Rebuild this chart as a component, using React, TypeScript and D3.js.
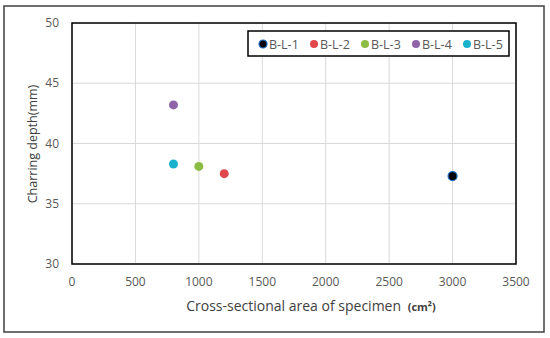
import React, { useRef, useEffect } from 'react';
import * as d3 from 'd3';

const seriesNames = ['B-L-1', 'B-L-2', 'B-L-3', 'B-L-4', 'B-L-5'];
const areaValues = [3000, 1200, 1000, 800, 800];
const depthValues = [37.3, 37.5, 38.1, 43.2, 38.3];
const seriesColors = ['#000000', '#e0474c', '#8cbc46', '#8e63a8', '#18b2cd'];
const xTicks = [0, 500, 1000, 1500, 2000, 2500, 3000, 3500];
const yTicks = [30, 35, 40, 45, 50];

const App = () => {
  const ref = useRef<SVGSVGElement>(null);

  useEffect(() => {
    const svg = d3.select(ref.current);
    svg.selectAll('*').remove();
    const font = 'Open Sans, Noto Sans, sans-serif';
    const left = 72, right = 516, top = 23, bottom = 264;

    const x = d3.scaleLinear().domain([0, 3500]).range([left, right]);
    const y = d3.scaleLinear().domain([30, 50]).range([bottom, top]);

    // outer frame
    svg.append('rect')
      .attr('x', 4).attr('y', 6).attr('width', 540).attr('height', 326)
      .attr('fill', '#fff').attr('stroke', '#404040').attr('stroke-width', 1.5);

    // grid
    svg.append('g').selectAll('line').data(xTicks).join('line')
      .attr('x1', d => x(d)).attr('x2', d => x(d))
      .attr('y1', top).attr('y2', bottom)
      .attr('stroke', '#d9d9d9').attr('stroke-width', 1);
    svg.append('g').selectAll('line').data(yTicks).join('line')
      .attr('x1', left).attr('x2', right)
      .attr('y1', d => y(d)).attr('y2', d => y(d))
      .attr('stroke', '#d9d9d9').attr('stroke-width', 1);

    // plot border
    svg.append('rect')
      .attr('x', left).attr('y', top).attr('width', right - left).attr('height', bottom - top)
      .attr('fill', 'none').attr('stroke', '#000').attr('stroke-width', 1.5);

    // tick labels
    svg.append('g').selectAll('text').data(xTicks).join('text')
      .attr('x', d => x(d)).attr('y', 286)
      .attr('text-anchor', 'middle')
      .attr('font-family', font).attr('font-size', 12).attr('fill', '#595959')
      .text(d => d);
    svg.append('g').selectAll('text').data(yTicks).join('text')
      .attr('x', 59).attr('y', d => y(d) + 4)
      .attr('text-anchor', 'end')
      .attr('font-family', font).attr('font-size', 12).attr('fill', '#595959')
      .text(d => d);

    // axis titles
    svg.append('text')
      .attr('transform', 'translate(37,144) rotate(-90)')
      .attr('text-anchor', 'middle')
      .attr('font-family', font).attr('font-size', 12.5).attr('fill', '#404040')
      .text('Charring depth(mm)');
    const xt = svg.append('text')
      .attr('x', 311).attr('y', 311)
      .attr('text-anchor', 'middle')
      .attr('font-family', font).attr('font-size', 14).attr('fill', '#404040');
    xt.append('tspan').text('Cross-sectional area of specimen ');
    xt.append('tspan').attr('font-size', 11).attr('font-weight', 'bold').attr('dx', 3).text('(cm²)');

    // points
    svg.append('g').selectAll('circle').data(seriesNames).join('circle')
      .attr('cx', (d, i) => x(areaValues[i]))
      .attr('cy', (d, i) => y(depthValues[i]))
      .attr('r', 4.5)
      .attr('fill', (d, i) => seriesColors[i])
      .attr('stroke', (d, i) => i === 0 ? '#1f6fc4' : 'none')
      .attr('stroke-width', 1.2);

    // legend
    svg.append('rect')
      .attr('x', 248).attr('y', 31).attr('width', 261).attr('height', 25)
      .attr('fill', '#fff').attr('stroke', '#000').attr('stroke-width', 1.5);
    const item = svg.append('g').selectAll('g').data(seriesNames).join('g')
      .attr('transform', (d, i) => `translate(${263 + i * 51},44)`);
    item.append('circle')
      .attr('r', 4)
      .attr('fill', (d, i) => seriesColors[i])
      .attr('stroke', (d, i) => i === 0 ? '#1f6fc4' : 'none')
      .attr('stroke-width', 1.2);
    item.append('text')
      .attr('x', 6).attr('y', 4.5)
      .attr('font-family', font).attr('font-size', 12.5).attr('fill', '#595959')
      .text(d => d);
  }, []);

  return (
    <svg ref={ref} width={550} height={338} style={{ position: 'absolute', left: 0, top: 0 }} />
  );
};

export default App;
